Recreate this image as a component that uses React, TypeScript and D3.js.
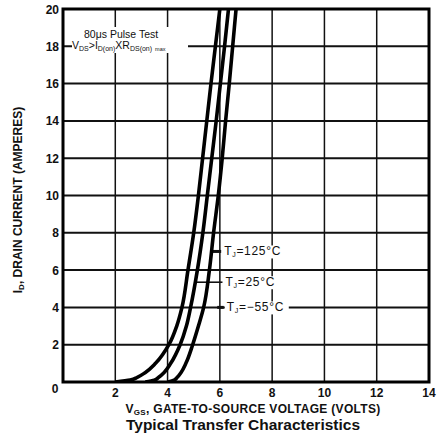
import React from "react";
import * as d3 from "d3";

const WIDTH = 440;
const HEIGHT = 436;
const LEFT = 63;
const RIGHT = 429;
const TOP = 9;
const BOTTOM = 382;

// drain current levels (A) where the gate voltage of each curve was read
const currentSteps = [0, 0.1, 0.25, 0.5, 1, 2, 3, 4, 6, 8, 10, 12, 14, 16, 18, 20];
// gate-to-source voltage (V) for each curve, left to right
const vgsLeft = [2.0, 2.57, 2.84, 3.14, 3.54, 4.05, 4.35, 4.55, 4.78, 5.0, 5.18, 5.34, 5.5, 5.66, 5.83, 6.0];
const vgsMiddle = [3.15, 3.49, 3.66, 3.86, 4.12, 4.48, 4.72, 4.88, 5.14, 5.35, 5.52, 5.69, 5.86, 6.02, 6.18, 6.33];
const vgsRight = [4.02, 4.25, 4.37, 4.51, 4.7, 4.96, 5.18, 5.38, 5.6, 5.76, 5.94, 6.09, 6.22, 6.36, 6.49, 6.62];

const xTicks = [2, 4, 6, 8, 10, 12, 14];
const yTicks = [2, 4, 6, 8, 10, 12, 14, 16, 18, 20];
const xGrid = [2, 4, 6, 8, 10, 12];
const yGrid = [2, 4, 6, 8, 10, 12, 14, 16, 18];

const labelTemps = ["125°C", "25°C", "\u221255°C"];
const labelCurrents = [7, 5.35, 4];
const labelCurve = [2, 1, -1]; // which curve the leader starts on (-1: free stub)
const labelStubStart = [0, 0, 5.9];
const labelStubEnd = [6.05, 6.1, 6.15];

export default function App() {
  const x = d3.scaleLinear().domain([0, 14]).range([LEFT, RIGHT]);
  const y = d3.scaleLinear().domain([0, 20]).range([BOTTOM, TOP]);

  const curves = [vgsLeft, vgsMiddle, vgsRight];
  const line = d3
    .line<[number, number]>()
    .x((d) => x(d[0]))
    .y((d) => y(d[1]))
    .curve(d3.curveMonotoneY);

  const font = "'Liberation Sans', Arial, sans-serif";

  return (
    <svg
      width={WIDTH}
      height={HEIGHT}
      style={{ position: "absolute", left: 0, top: 0, background: "#fff" }}
      fontFamily={font}
    >
      <defs>
        <clipPath id="plot">
          <rect x={LEFT} y={TOP} width={RIGHT - LEFT} height={BOTTOM - TOP} />
        </clipPath>
      </defs>

      {/* grid */}
      {yGrid.map((v) => (
        <line key={"h" + v} x1={LEFT} x2={RIGHT} y1={y(v)} y2={y(v)} stroke="#111" strokeWidth={2} />
      ))}
      {xGrid.map((v) => (
        <line key={"v" + v} x1={x(v)} x2={x(v)} y1={TOP} y2={BOTTOM} stroke="#111" strokeWidth={1.5} />
      ))}

      {/* white patches behind the notes */}
      <rect x={72} y={27} width={116} height={26} fill="#fff" />
      {labelTemps.map((t, i) => (
        <rect key={"m" + t} x={x(labelStubEnd[i]) + 1} y={y(labelCurrents[i]) - 6} width={i === 1 ? 54 : 64} height={13} fill="#fff" />
      ))}

      {/* test conditions */}
      <text x={84} y={38} fontSize={10.5} fill="#111">
        80μs Pulse Test
      </text>
      <text x={72} y={49} fontSize={10.5} fill="#111">
        <tspan>V</tspan>
        <tspan fontSize={7} dy={2}>DS</tspan>
        <tspan dy={-2}>&gt;I</tspan>
        <tspan fontSize={7} dy={2}>D(on)</tspan>
        <tspan dy={-2}>XR</tspan>
        <tspan fontSize={7} dy={2}>DS(on)</tspan>
        <tspan fontSize={5.5} dx={3}>max</tspan>
      </text>

      {/* curve labels with leaders */}
      {labelTemps.map((t, i) => {
        const yy = y(labelCurrents[i]);
        const startV =
          labelCurve[i] >= 0
            ? d3.scaleLinear().domain(currentSteps).range(curves[labelCurve[i]])(labelCurrents[i])
            : labelStubStart[i];
        const endX = x(labelStubEnd[i]);
        return (
          <g key={t}>
            <line x1={x(startV)} x2={endX} y1={yy} y2={yy} stroke="#111" strokeWidth={i === 1 ? 1.6 : 3} />
            <text x={endX + 3} y={yy + 4} fontSize={12} letterSpacing={0.7} fill="#111">
              <tspan>T</tspan>
              <tspan fontSize={7} dy={2}>J</tspan>
              <tspan dy={-2}>{"=" + t}</tspan>
            </text>
          </g>
        );
      })}

      {/* curves */}
      <g clipPath="url(#plot)">
        {curves.map((c, i) => (
          <path
            key={i}
            d={line(currentSteps.map((a, j) => [c[j], a] as [number, number])) || ""}
            fill="none"
            stroke="#000"
            strokeWidth={3.6}
            strokeLinejoin="round"
          />
        ))}
      </g>

      {/* frame */}
      <rect x={LEFT} y={TOP} width={RIGHT - LEFT} height={BOTTOM - TOP} fill="none" stroke="#000" strokeWidth={3} />

      {/* ticks */}
      {xTicks.map((v) => (
        <text key={"xt" + v} x={x(v)} y={397} textAnchor="middle" fontSize={12} fontWeight="bold" fill="#111">
          {v}
        </text>
      ))}
      {yTicks.map((v) => (
        <text key={"yt" + v} x={59} y={y(v) + 4.5} textAnchor="end" fontSize={12} fontWeight="bold" fill="#111">
          {v}
        </text>
      ))}
      <text x={55} y={393} textAnchor="middle" fontSize={12} fontWeight="bold" fill="#111">
        0
      </text>

      {/* axis titles */}
      <text x={253} y={413} textAnchor="middle" fontSize={12} letterSpacing={0.3} fontWeight="bold" fill="#111">
        <tspan>V</tspan>
        <tspan fontSize={8} dy={1.5}>GS</tspan>
        <tspan dy={-1.5}>, GATE-TO-SOURCE VOLTAGE (VOLTS)</tspan>
      </text>
      <text x={243} y={430} textAnchor="middle" fontSize={15.5} fontWeight="bold" fill="#111">
        Typical Transfer Characteristics
      </text>
      <text
        transform={`translate(22,200) rotate(-90)`}
        textAnchor="middle"
        fontSize={12}
        fontWeight="bold"
        fill="#111"
      >
        <tspan>I</tspan>
        <tspan fontSize={8} dy={2}>D</tspan>
        <tspan dy={-2}>, DRAIN CURRENT (AMPERES)</tspan>
      </text>
    </svg>
  );
}
